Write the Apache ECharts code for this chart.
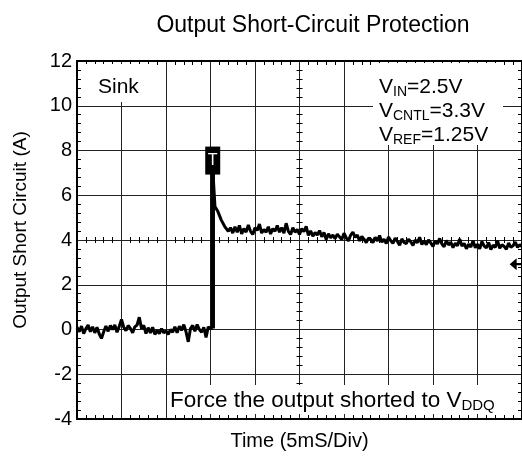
<!DOCTYPE html>
<html>
<head>
<meta charset="utf-8">
<script src="https://cdn.jsdelivr.net/npm/echarts@6/dist/echarts.min.js"></script>
<style>
  html, body { margin: 0; padding: 0; background: #fff; }
  #chart { width: 522px; height: 460px; }
</style>
</head>
<body>
<div id="chart"></div>
<script>
var FONT = '"Liberation Sans", Arial, sans-serif';

// current before the short, one sample every 0.25 ms from 0 ms
var preStep = [0.1, -0.1, 0.15, -0.18, 0.04, 0.2, -0.1, 0.12,
    -0.15, 0.1, -0.2, -0.4, -0.1, 0.15, -0.08, 0.18,
    0.0, 0.2, -0.12, 0.15, 0.45, 0.1, -0.05, 0.18,
    0.05, -0.15, 0.12, 0.2, 0.55, 0.04, 0.18, -0.18,
    0.08, -0.15, 0.1, -0.22, -0.04, -0.18, 0.04, -0.15,
    -0.06, -0.22, 0.0, -0.12, 0.12, -0.15, 0.15, -0.04,
    0.22, -0.1, -0.55, 0.04, 0.18, -0.08, 0.22, 0.0,
    -0.12, 0.1, -0.35, 0.12, 0.04];
var preStart = 0, sampleMs = 0.25;

// rising edge and first overshoot [ms, A]
var stepEdge = [[15.25, 0.04], [15.25, 7.2], [15.5, 5.5], [15.8, 5.3], [16.2, 4.9], [16.6, 4.6]];

// current after the short, one sample every 0.25 ms from 17 ms
var postStep = [4.39, 4.55, 4.31, 4.59, 4.35, 4.65, 4.27, 4.51,
    4.35, 4.67, 4.39, 4.25, 4.55, 4.43, 4.71, 4.31,
    4.47, 4.35, 4.59, 4.27, 4.51, 4.39, 4.65, 4.35,
    4.55, 4.31, 4.75, 4.39, 4.25, 4.55, 4.35, 4.47,
    4.25, 4.51, 4.37, 4.61, 4.21, 4.41, 4.17, 4.33,
    4.22, 4.42, 4.14, 4.34, 4.02, 4.28, 4.1, 4.22,
    4.06, 4.26, 4.14, 4.02, 4.3, 4.1, 3.96, 4.22,
    4.35, 4.12, 4.22, 3.96, 4.16, 4.04, 3.88, 4.08,
    4.04, 3.88, 4.12, 3.96, 4.2, 3.9, 4.04, 3.84,
    4.13, 3.97, 3.85, 4.09, 3.93, 3.77, 4.05, 3.89,
    3.84, 4.04, 3.92, 3.76, 4.0, 3.88, 4.12, 3.8,
    3.95, 3.79, 4.01, 3.87, 3.71, 3.95, 3.83, 4.07,
    3.82, 3.7, 3.98, 3.78, 3.9, 3.66, 3.86, 3.74,
    4.05, 3.73, 3.85, 3.61, 3.81, 3.69, 3.97, 3.65,
    3.81, 3.61, 3.93, 3.73, 3.65, 3.89, 3.57, 3.77,
    3.67, 3.97, 3.63, 3.79, 3.71, 3.59, 3.87, 3.67,
    3.75, 3.91, 3.67, 3.79, 3.71];
var postStart = 17;

var trigMark = [15.25, 7.55];
var groundMark = [49.4, 2.92];

var before = preStep.map(function (v, i) { return [preStart + i * sampleMs, v]; });
var after = postStep.map(function (v, i) { return [postStart + i * sampleMs, v]; });
var trace = before.concat([stepEdge[0]]);
var tail = stepEdge.slice(1).concat(after);

var myChart = echarts.init(document.getElementById('chart'));

function minor(len) {
    return { show: true, splitNumber: 5, length: len, lineStyle: { color: '#000', width: 1 } };
}

myChart.setOption({
    animation: false,
    backgroundColor: '#fff',
    title: {
        text: 'Output Short-Circuit Protection',
        left: 308, top: 9, textAlign: 'center',
        textStyle: { fontFamily: FONT, fontSize: 23, fontWeight: 'normal', color: '#000' }
    },
    grid: { left: 77, right: 0, top: 61, bottom: 41 },
    xAxis: [
        {
            type: 'value', min: 0, max: 50, interval: 5, position: 'bottom',
            axisLine: { show: true, onZero: false, lineStyle: { color: '#000', width: 2 } },
            axisTick: { show: false, inside: true },
            minorTick: minor(4),
            axisLabel: { show: false },
            splitLine: { show: true, lineStyle: { color: '#222', width: 1 } },
            name: 'Time (5mS/Div)', nameLocation: 'middle', nameGap: 12,
            nameTextStyle: { fontFamily: FONT, fontSize: 20, color: '#000' }
        },
        {
            type: 'value', min: 0, max: 50, interval: 5, position: 'top',
            axisLine: { show: true, onZero: false, lineStyle: { color: '#000', width: 2 } },
            axisTick: { show: false, inside: true },
            minorTick: minor(4),
            axisLabel: { show: false }, splitLine: { show: false }
        },
        {
            type: 'value', min: 0, max: 50, interval: 5, position: 'bottom', offset: -182,
            axisLine: { show: false, onZero: false },
            axisTick: { show: false },
            minorTick: minor(6),
            axisLabel: { show: false }, splitLine: { show: false }
        }
    ],
    yAxis: [
        {
            type: 'value', min: -4, max: 12, interval: 2, position: 'left',
            axisLine: { show: true, onZero: false, lineStyle: { color: '#000', width: 2 } },
            axisTick: { show: false, inside: true },
            minorTick: minor(4),
            axisLabel: { fontFamily: FONT, fontSize: 20, color: '#000', margin: 5 },
            splitLine: { show: true, lineStyle: { color: '#222', width: 1 } },
            name: 'Output Short Circuit (A)', nameLocation: 'middle', nameGap: 47,
            nameTextStyle: { fontFamily: FONT, fontSize: 19, color: '#000', padding: [0, 0, 0, 20] }
        },
        {
            type: 'value', min: -4, max: 12, interval: 2, position: 'right',
            axisLine: { show: true, onZero: false, lineStyle: { color: '#000', width: 2 } },
            axisTick: { show: false, inside: true },
            minorTick: minor(4),
            axisLabel: { show: false }, splitLine: { show: false }
        },
        {
            type: 'value', min: -4, max: 12, interval: 2, position: 'left', offset: -225.5,
            axisLine: { show: false, onZero: false },
            axisTick: { show: false },
            minorTick: minor(6),
            axisLabel: { show: false }, splitLine: { show: false }
        }
    ],
    series: [
        {
            type: 'line', data: trace, showSymbol: false, z: 3,
            lineStyle: { color: '#000', width: 3 }
        },
        {
            type: 'line', data: tail, showSymbol: false, z: 3,
            lineStyle: { color: '#000', width: 3 }
        },
        {
            type: 'line', data: stepEdge.slice(0, 2), showSymbol: false, z: 3,
            lineStyle: { color: '#000', width: 4.5 },
            markPoint: {
                silent: true,
                data: [
                    {
                        coord: trigMark, symbol: 'rect', symbolSize: [15, 28],
                        itemStyle: { color: '#000' },
                        label: { show: true, formatter: 'T', color: '#fff', fontFamily: FONT, fontSize: 16 }
                    },
                    {
                        coord: groundMark, symbol: 'path://M0,5 L6,0 L6,10 Z M6,4 L12,4 L12,6 L6,6 Z',
                        symbolSize: [14, 12], itemStyle: { color: '#000' }, label: { show: false }
                    }
                ]
            }
        }
    ],
    graphic: [
        { type: 'rect', z: 50, shape: { x: 84, y: 64, width: 66, height: 38 }, style: { fill: '#fff' } },
        {
            type: 'text', z: 51, x: 98, y: 87,
            style: { text: 'Sink', fill: '#000', font: '21px ' + FONT, verticalAlign: 'middle' }
        },
        { type: 'rect', z: 50, shape: { x: 373, y: 63, width: 130, height: 82 }, style: { fill: '#fff' } },
        {
            type: 'text', z: 51, x: 379, y: 75,
            style: {
                text: '{v|V}{s|IN}{v|=2.5V}\n{v|V}{s|CNTL}{v|=3.3V}\n{v|V}{s|REF}{v|=1.25V}',
                fill: '#000',
                rich: {
                    v: { fontFamily: FONT, fontSize: 21, lineHeight: 24, color: '#000' },
                    s: { fontFamily: FONT, fontSize: 14, lineHeight: 24, color: '#000', padding: [10, 0, 0, 0] }
                }
            }
        },
        { type: 'rect', z: 50, shape: { x: 167, y: 385, width: 338, height: 29 }, style: { fill: '#fff' } },
        {
            type: 'text', z: 51, x: 170, y: 388,
            style: {
                text: '{v|Force the output shorted to V}{s|DDQ}',
                fill: '#000',
                rich: {
                    v: { fontFamily: FONT, fontSize: 22.5, lineHeight: 25, color: '#000' },
                    s: { fontFamily: FONT, fontSize: 15, lineHeight: 25, color: '#000', padding: [10, 0, 0, 0] }
                }
            }
        }
    ]
});
</script>
</body>
</html>
